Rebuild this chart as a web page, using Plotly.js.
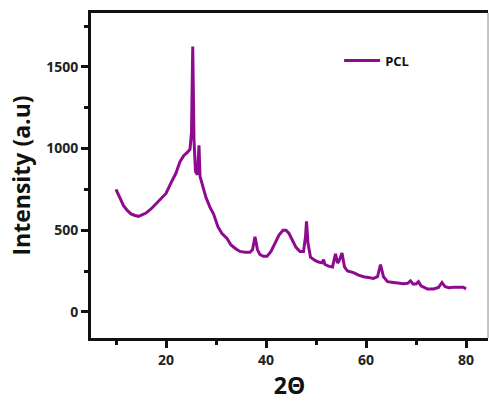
<!DOCTYPE html>
<html>
<head>
<meta charset="utf-8">
<script src="https://cdn.plot.ly/plotly-3.0.1.min.js"></script>
<style>html,body{margin:0;padding:0;background:#fff;}#chart{width:489px;height:401px;}</style>
</head>
<body>
<div id="chart"></div>
<script>
var seriesName = "PCL";
var twoTheta = [10.0,10.3,10.8,11.5,12.3,13.0,13.8,14.5,15.3,16.0,17.0,18.0,19.0,20.0,21.0,22.0,22.8,23.5,24.2,24.8,25.1,25.35,25.6,25.9,26.3,26.6,26.8,27.3,28.0,28.8,29.5,30.4,31.2,32.2,33.0,34.0,34.8,35.8,36.8,37.3,37.8,38.3,38.8,39.5,40.2,41.0,41.8,42.6,43.4,44.0,44.6,45.3,46.0,46.8,47.5,47.9,48.1,48.4,48.9,49.8,50.5,51.2,51.5,51.8,52.5,53.3,53.9,54.3,54.6,55.2,55.7,56.3,57.5,58.5,59.5,60.5,61.5,62.3,62.9,63.5,64.3,65.5,66.5,67.5,68.3,68.9,69.4,70.0,70.5,71.0,72.3,73.5,74.5,75.2,75.8,76.5,77.5,78.5,79.5,80.0];
var intensity = [750,730,690,650,620,600,590,585,595,605,630,660,690,725,790,850,920,955,975,995,1100,1625,1050,860,840,1020,830,780,700,640,600,520,480,450,410,385,370,365,365,380,460,380,350,340,340,370,420,470,500,500,480,440,395,370,370,460,555,420,335,315,305,300,320,290,280,275,355,300,310,360,275,250,240,225,215,210,205,215,290,215,185,180,175,172,175,190,170,170,185,160,140,140,150,180,155,148,150,148,150,140];
var xTickVals = [20,40,60,80];
var yTickVals = [0,500,1000,1500];

var fontFam = "Open Sans, Liberation Sans, Arial, sans-serif";
var data = [{
  x: twoTheta, y: intensity, type: "scatter", mode: "lines", name: seriesName,
  line: {color: "#8e0a8e", width: 3}
}];
var layout = {
  width: 489, height: 401,
  margin: {l: 91, r: 1, t: 13, b: 63},
  paper_bgcolor: "#fff", plot_bgcolor: "#fff",
  showlegend: true,
  legend: {x: 0.625, y: 0.9, xanchor: "left", yanchor: "top", bgcolor: "rgba(0,0,0,0)",
           itemwidth: 36,
           font: {family: fontFam, size: 13, color: "#111", weight: "bold"}},
  xaxis: {
    range: [5, 84.4], tickvals: xTickVals, ticks: "outside", ticklen: 7, tickwidth: 3,
    tickcolor: "#111", showline: true, linewidth: 3, linecolor: "#111", mirror: true,
    showgrid: false, zeroline: false,
    minor: {dtick: 10, tick0: 0, ticks: "outside", ticklen: 4, tickwidth: 3, tickcolor: "#111", showgrid: false},
    tickfont: {family: fontFam, size: 14, color: "#222", weight: "bold"},
    title: {text: "2Θ", font: {family: fontFam, size: 23, color: "#111", weight: "bold"}, standoff: 10}
  },
  yaxis: {
    range: [-160, 1830], tickvals: yTickVals, ticks: "outside", ticklen: 7, tickwidth: 3,
    tickcolor: "#111", showline: true, linewidth: 3, linecolor: "#111", mirror: false,
    showgrid: false, zeroline: false,
    minor: {dtick: 250, tick0: 0, ticks: "outside", ticklen: 4, tickwidth: 3, tickcolor: "#111", showgrid: false},
    tickfont: {family: fontFam, size: 14, color: "#222", weight: "bold"},
    title: {text: "Intensity (a.u)", font: {family: fontFam, size: 23, color: "#111", weight: "bold"}, standoff: 10}
  },
  shapes: [{type: "line", xref: "paper", yref: "paper", x0: 1, x1: 1, y0: 0, y1: 1,
            line: {color: "#888", width: 1}}]
};
Plotly.newPlot("chart", data, layout, {displayModeBar: false, staticPlot: true});
</script>
</body>
</html>
